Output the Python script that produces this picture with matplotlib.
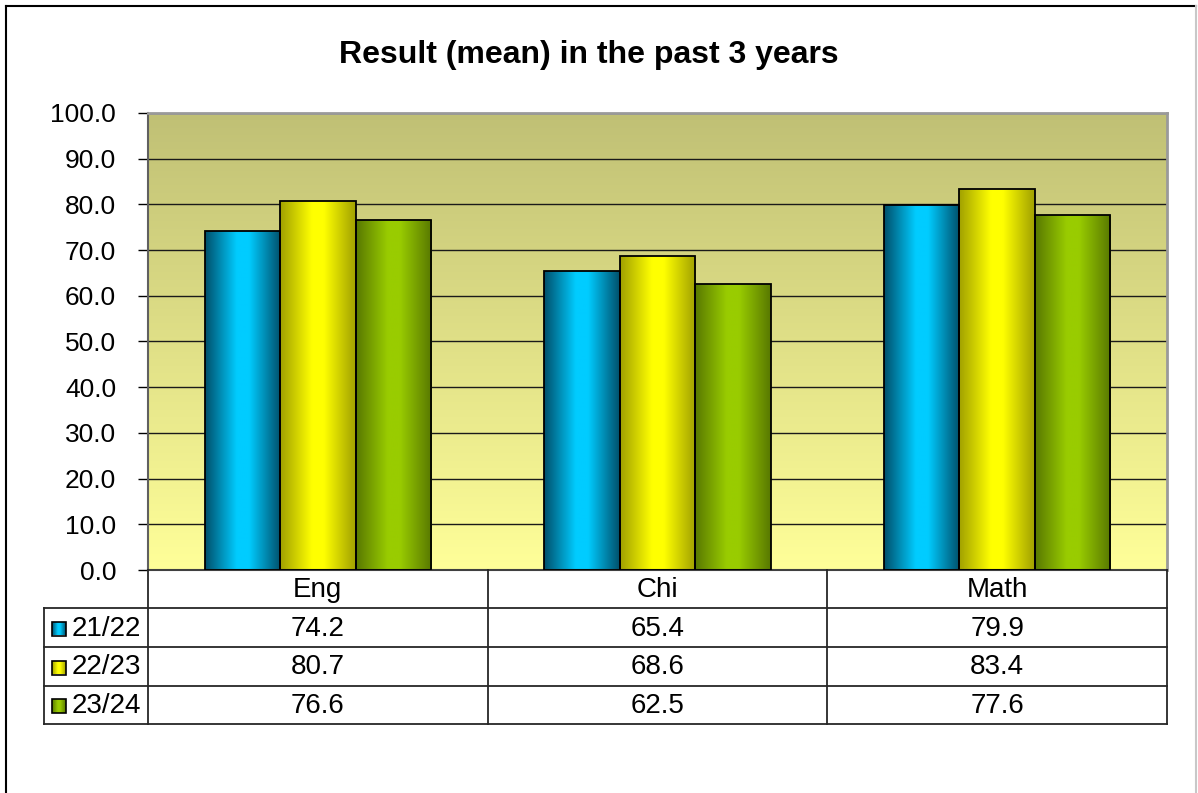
import numpy as np
import matplotlib.pyplot as plt
from matplotlib.colors import LinearSegmentedColormap
from matplotlib.patches import Rectangle

plt.rcParams['font.family'] = ['Liberation Sans', 'DejaVu Sans']

subjects = ['Eng', 'Chi', 'Math']
years = ['21/22', '22/23', '23/24']
mean_2122 = [74.2, 65.4, 79.9]
mean_2223 = [80.7, 68.6, 83.4]
mean_2324 = [76.6, 62.5, 77.6]
series = [mean_2122, mean_2223, mean_2324]
yticks = np.arange(0, 101, 10)

# (dark edge, bright centre) for the shaded bars
shades = [('#004f6b', '#00ccff'), ('#a0a000', '#ffff00'), ('#587800', '#99cc00')]

W, H = 1198, 793
fig = plt.figure(figsize=(W / 100, H / 100), dpi=100)
ax = fig.add_axes([148 / W, 1 - 570 / H, 1019 / W, 457 / H])


def shade_cmap(dark, light):
    return LinearSegmentedColormap.from_list('s', [(0, dark), (0.42, light), (0.58, light), (1, dark)])


def fill_gradient(axis, patch, dark, light, z):
    x0, y0 = patch.get_x(), patch.get_y()
    w, h = patch.get_width(), patch.get_height()
    im = axis.imshow(np.linspace(0, 1, 256).reshape(1, -1), cmap=shade_cmap(dark, light),
                     extent=(x0, x0 + w, y0, y0 + h), aspect='auto', zorder=z,
                     interpolation='bilinear')
    im.set_clip_path(patch)


# background gradient (olive at top -> pale yellow at bottom)
bg = LinearSegmentedColormap.from_list('bg', ['#ffff99', '#c0c075'])
ax.imshow(np.linspace(0, 1, 256).reshape(-1, 1), cmap=bg, origin='lower',
          extent=(0, 1, 0, 1), transform=ax.transAxes, aspect='auto', zorder=0)

x = np.arange(len(subjects))
bw = 1 / 4.5
for k, vals in enumerate(series):
    bars = ax.bar(x + (k - 1) * bw, vals, bw, facecolor='none', edgecolor='black',
                  linewidth=1.3, zorder=3)
    for b in bars:
        fill_gradient(ax, b, shades[k][0], shades[k][1], 2)

ax.set_xlim(-0.5, len(subjects) - 0.5)
ax.set_ylim(0, 100)
ax.set_yticks(yticks)
ax.set_yticklabels(['%.1f' % v for v in yticks])
ax.set_xticks([])
ax.set_axisbelow(True)
ax.yaxis.grid(True, color='#1a1a1a', linewidth=1.0)
ax.tick_params(axis='y', direction='out', length=7, width=1, pad=16, labelsize=19)
for s in ['top', 'right']:
    ax.spines[s].set_color('#9a9a9a')
    ax.spines[s].set_linewidth(2)
ax.spines['left'].set_color('#606060')
ax.spines['left'].set_linewidth(1.5)
ax.spines['bottom'].set_color('#404040')
ax.spines['bottom'].set_linewidth(1.5)

fig.text(589 / W, 1 - 55 / H, 'Result (mean) in the past 3 years', ha='center', va='center',
         fontsize=23, fontweight='bold')

# data table below the plot, drawn on a pixel-space overlay
tax = fig.add_axes([0, 0, 1, 1])
tax.set_xlim(0, W)
tax.set_ylim(H, 0)
tax.axis('off')

left, right = 148, 1167
cols = [left + (right - left) * k / 3 for k in range(4)]
rows = [570, 608, 647, 686, 724]
lc = '#262626'
for cx in cols:
    tax.plot([cx, cx], [rows[0], rows[-1]], color=lc, lw=1.3)
tax.plot([44, 44], [rows[1], rows[-1]], color=lc, lw=1.3)
for ry in rows[1:]:
    tax.plot([44, right], [ry, ry], color=lc, lw=1.3)

for j, name in enumerate(subjects):
    tax.text((cols[j] + cols[j + 1]) / 2, (rows[0] + rows[1]) / 2 + 1, name,
             ha='center', va='center', fontsize=20)

for k, vals in enumerate(series):
    yc = (rows[k + 1] + rows[k + 2]) / 2 + 1
    key = Rectangle((52, yc - 7), 14, 14, facecolor='none', edgecolor='black', lw=1.2, zorder=3)
    tax.add_patch(key)
    fill_gradient(tax, key, shades[k][0], shades[k][1], 2)
    tax.text(72, yc, years[k], ha='left', va='center', fontsize=20)
    for j, v in enumerate(vals):
        tax.text((cols[j] + cols[j + 1]) / 2, yc, '%.1f' % v, ha='center', va='center', fontsize=20)

tax.set_xlim(0, W)
tax.set_ylim(H, 0)

# outer chart frame
tax.plot([6, 6], [6, H], color='black', lw=1.5)
tax.plot([6, 1196], [6, 6], color='black', lw=1.5)
tax.plot([1196, 1196], [6, H], color='#c8c8c8', lw=1.5)

fig.savefig('out.png', dpi=100)
